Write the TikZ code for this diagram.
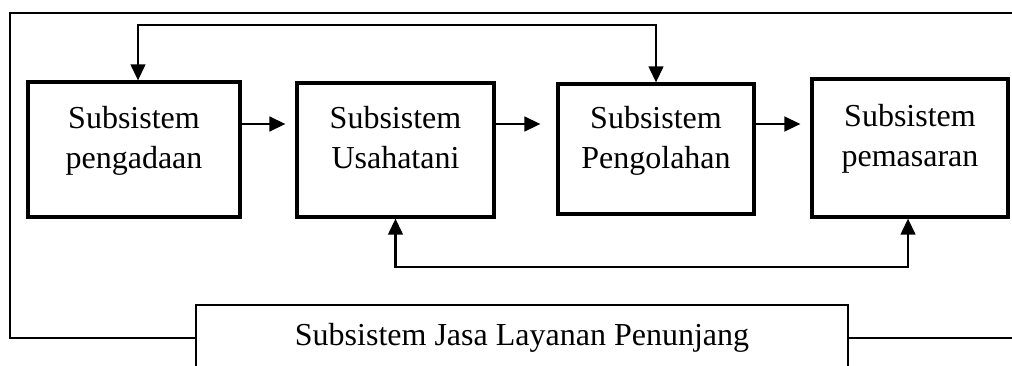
\documentclass[tikz,border=0pt]{standalone}
\usepackage{fontspec}
\setmainfont{Liberation Serif}
\usetikzlibrary{arrows.meta}

\begin{document}
\begin{tikzpicture}[x=0.75pt,y=-0.75pt,
    box/.style={draw,line width=2.4pt,inner sep=0pt},
    lbl/.style={align=center,anchor=base,font=\fontsize{24}{30}\selectfont},
    arr/.style={line width=1.8pt,-{Triangle[length=12pt,width=11pt]}},
    twoway/.style={line width=1.6pt,{Triangle[length=12pt,width=11pt]}-{Triangle[length=12pt,width=11pt]}},
    frame/.style={line width=1.9pt}]
    \useasboundingbox (0,0) rectangle (1012,365);

    \node[box,minimum width=159pt,minimum height=101.25pt] (peng) at (134,149.5) {};
    \node[box,minimum width=147.75pt,minimum height=100.5pt] (usaha) at (395.5,150) {};
    \node[box,minimum width=147pt,minimum height=97.5pt] (olah) at (656,149) {};
    \node[box,minimum width=147pt,minimum height=103.5pt] (pasar) at (910,148) {};
    \node[box,line width=1.9pt,minimum width=489pt,minimum height=49.5pt,
          font=\fontsize{24}{30}\selectfont] (jasa) at (522,338) {Subsistem Jasa Layanan Penunjang};

    \node[lbl] (tpeng) at (peng |- 0,168) {Subsistem\\pengadaan};
    \node[lbl] (tusaha) at (usaha |- 0,168) {Subsistem\\Usahatani};
    \node[lbl] (tolah) at (olah |- 0,168) {Subsistem\\Pengolahan};
    \node[lbl] (tpasar) at (pasar |- 0,166) {Subsistem\\pemasaran};

    % alur utama
    \coordinate (row) at (0,124);
    \draw[arr,shorten >=7.5pt] (peng.east |- row) -- (usaha.west |- row);
    \draw[arr,shorten >=12pt] (usaha.east |- row) -- (olah.west |- row);
    \draw[arr,shorten >=7.5pt] (olah.east |- row) -- (pasar.west |- row);

    % umpan balik
    \coordinate (atas) at (0,25);
    \coordinate (bawah) at (0,267);
    \draw[twoway] ([xshift=3pt]peng.north) -- ([xshift=3pt]peng.north |- atas)
        -- (olah.north |- atas) -- (olah.north);
    \draw[twoway] (usaha.south) -- (usaha.south |- bawah)
        -- ([xshift=-1.5pt]pasar.south |- bawah) -- ([xshift=-1.5pt]pasar.south);

    % bingkai luar
    \coordinate (kiribawah) at (10,338);
    \coordinate (kiriatas) at (10,13);
    \coordinate (kananatas) at (1020,13);
    \coordinate (kananbawah) at (1020,338);
    \draw[frame] (jasa.west) -- (kiribawah) -- (kiriatas) -- (kananatas);
    \draw[frame] (jasa.east) -- (kananbawah);
\end{tikzpicture}
\end{document}
